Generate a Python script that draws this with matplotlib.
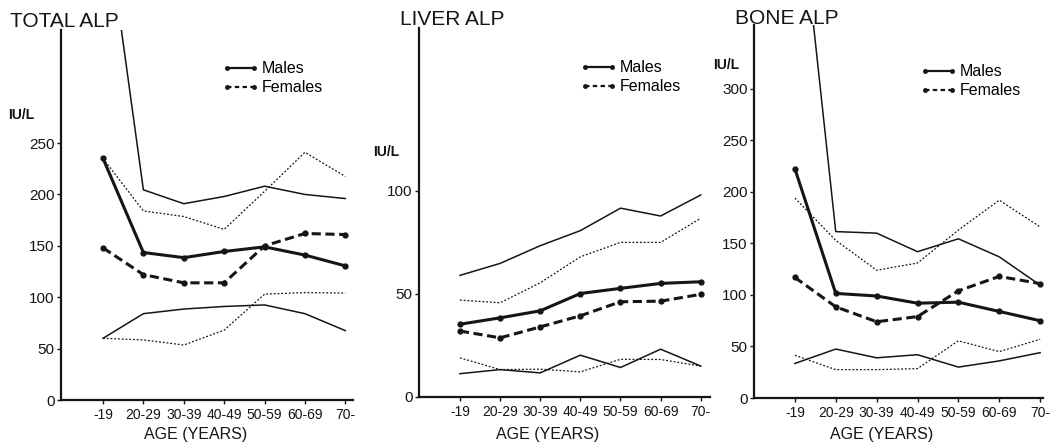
import numpy as np
import matplotlib
matplotlib.use("Agg")
import matplotlib.pyplot as plt
from matplotlib.lines import Line2D

plt.rcParams['font.family'] = ['Liberation Sans', 'DejaVu Sans']

ages = ["-19", "20-29", "30-39", "40-49", "50-59", "60-69", "70-"]

# total ALP (IU/L): mean and upper/lower limits
total_m_mean = [235, 143.5, 138.5, 144.5, 149, 141, 130.5]
total_m_hi = [490, 204.5, 191, 198, 208, 200, 196]
total_m_lo = [60, 84, 88.5, 91, 92.5, 84, 67.5]
total_f_mean = [148, 122, 114, 114, 150, 162, 161]
total_f_hi = [235, 184, 178.5, 166, 203, 241, 217.5]
total_f_lo = [60, 58.5, 53.5, 68, 103, 104.5, 104]

# liver ALP
liver_m_mean = [35.3, 38.4, 41.8, 50.2, 52.7, 55.1, 55.9]
liver_m_hi = [59, 64.8, 73.4, 80.7, 91.6, 87.8, 98]
liver_m_lo = [11.3, 13.3, 11.7, 20.3, 14.3, 23.2, 15]
liver_f_mean = [32, 28.7, 34, 39.4, 46.2, 46.5, 49.8]
liver_f_hi = [47, 45.7, 55.4, 68, 75, 75, 86.7]
liver_f_lo = [19, 13.3, 13.5, 12.2, 18.3, 18.2, 15]

# bone ALP
bone_m_mean = [222.5, 101.5, 99, 92, 93, 84, 75]
bone_m_hi = [530, 161.5, 160, 142, 154.5, 137, 109.5]
bone_m_lo = [33.5, 47.5, 39, 42, 30, 36, 44]
bone_f_mean = [117, 88.5, 74, 79, 104, 118, 111]
bone_f_hi = [194, 153, 124, 131, 163, 192, 166]
bone_f_lo = [41.5, 27.5, 27.5, 28.5, 55.5, 45, 57]

W, H = 1057, 445
fig = plt.figure(figsize=(W / 100, H / 100), dpi=100)

def px_axes(left, right, top, bottom):
    return fig.add_axes([left / W, 1 - bottom / H, (right - left) / W, (bottom - top) / H])

ink = '#151515'

panels = [
    dict(box=(61, 353, 30, 400), xlim=(-1.04, 6.19), ylim=(0, 360),
         yticks=[0, 50, 100, 150, 200, 250],
         data=(total_m_mean, total_m_hi, total_m_lo, total_f_mean, total_f_hi, total_f_lo),
         title="TOTAL ALP", title_xy=(10, 27), unit_xy=(8, 115),
         leg=(0.551, 0.915), xlab_x=196),
    dict(box=(419, 710, 28, 397), xlim=(-1.02, 6.23), ylim=(0, 179),
         yticks=[0, 50, 100],
         data=(liver_m_mean, liver_m_hi, liver_m_lo, liver_f_mean, liver_f_hi, liver_f_lo),
         title="LIVER ALP", title_xy=(400, 25), unit_xy=(373, 152),
         leg=(0.553, 0.912), xlab_x=548),
    dict(box=(754, 1043, 25, 398), xlim=(-1.0, 6.07), ylim=(0, 362),
         yticks=[0, 50, 100, 150, 200, 250, 300],
         data=(bone_m_mean, bone_m_hi, bone_m_lo, bone_f_mean, bone_f_hi, bone_f_lo),
         title="BONE ALP", title_xy=(735, 24), unit_xy=(713, 65),
         leg=(0.574, 0.895), xlab_x=882),
]

x = np.arange(len(ages))
for p in panels:
    ax = px_axes(*p['box'])
    m_mean, m_hi, m_lo, f_mean, f_hi, f_lo = p['data']

    ax.plot(x, m_hi, color=ink, lw=1.1)
    ax.plot(x, m_lo, color=ink, lw=1.1)
    ax.plot(x, f_hi, color=ink, lw=0.9, linestyle=(0, (1.5, 1.5)))
    ax.plot(x, f_lo, color=ink, lw=0.9, linestyle=(0, (1.5, 1.5)))
    ax.plot(x, m_mean, color=ink, lw=2.2, marker='o', ms=3.5)
    ax.plot(x, f_mean, color=ink, lw=2.2, marker='o', ms=3.5, linestyle=(0, (3, 1.5)))

    ax.set_xlim(*p['xlim'])
    ax.set_ylim(*p['ylim'])
    ax.set_xticks(x)
    ax.set_xticklabels(ages, fontsize=10)
    ax.set_yticks(p['yticks'])
    ax.set_yticklabels([str(v) for v in p['yticks']], fontsize=11)
    ax.tick_params(axis='both', length=3, width=1, pad=1.5, colors=ink)
    ax.tick_params(axis='x', pad=3)
    for s in ['top', 'right']:
        ax.spines[s].set_visible(False)
    for s in ['left', 'bottom']:
        ax.spines[s].set_linewidth(1.6)
        ax.spines[s].set_color(ink)

    handles = [Line2D([], [], color=ink, lw=1.6, marker='o', ms=2.5),
               Line2D([], [], color=ink, lw=1.6, marker='o', ms=2.5, linestyle=(0, (2, 1.5)))]
    ax.legend(handles, ['Males', 'Females'], loc='upper left', bbox_to_anchor=p['leg'],
              frameon=False, numpoints=2, handlelength=2.3, handletextpad=0.2,
              borderpad=0, borderaxespad=0, labelspacing=0.25, fontsize=11.5)

    tx, ty = p['title_xy']
    fig.text(tx / W, 1 - ty / H, p['title'], fontsize=15, va='baseline', ha='left', color=ink)
    ux, uy = p['unit_xy']
    fig.text(ux / W, 1 - uy / H, "IU/L", fontsize=10, va='center', ha='left',
             color=ink, fontweight='bold')
    fig.text(p['xlab_x'] / W, 1 - 434 / H, "AGE (YEARS)", fontsize=11.5, va='center',
             ha='center', color=ink)

fig.savefig("out.png", dpi=100)
